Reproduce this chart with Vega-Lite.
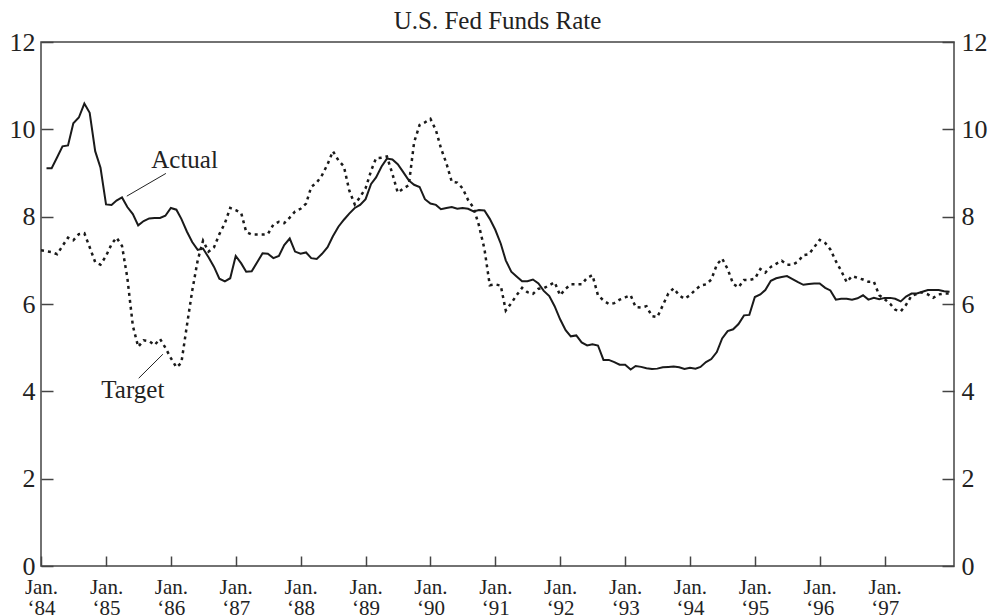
{
  "$schema": "https://vega.github.io/schema/vega-lite/v6.json",
  "width": 913,
  "height": 524,
  "autosize": "none",
  "padding": {"left": 41, "top": 42, "right": 34, "bottom": 49},
  "background": "white",
  "title": {"text": "U.S. Fed Funds Rate", "font": "Liberation Serif", "fontSize": 25, "fontWeight": "normal", "color": "#222", "anchor": "middle", "offset": -5},
  "config": {
    "view": {"stroke": "#444", "strokeWidth": 1.5},
    "axis": {"grid": false, "domain": false, "tickColor": "#444", "tickWidth": 1.5, "labelFont": "Liberation Serif", "labelColor": "#222", "labelFlush": false, "labelOverlap": false, "title": null}
  },
  "datasets": {
    "fed": [
      {"d":"1984-01","t":7.23},
      {"d":"1984-02","a":9.11,"t":7.21},{"d":"1984-03","a":9.11,"t":7.19},{"d":"1984-04","a":9.36,"t":7.14},{"d":"1984-05","a":9.61,"t":7.33},{"d":"1984-06","a":9.63,"t":7.52},{"d":"1984-07","a":10.14,"t":7.46},{"d":"1984-08","a":10.27,"t":7.6},{"d":"1984-09","a":10.59,"t":7.62},{"d":"1984-10","a":10.38,"t":7.3},{"d":"1984-11","a":9.5,"t":6.96},{"d":"1984-12","a":9.12,"t":6.9},
      {"d":"1985-01","a":8.28,"t":7.1},{"d":"1985-02","a":8.27,"t":7.37},{"d":"1985-03","a":8.37,"t":7.52},{"d":"1985-04","a":8.44,"t":7.33},{"d":"1985-05","a":8.22,"t":6.6},{"d":"1985-06","a":8.06,"t":5.5},{"d":"1985-07","a":7.8,"t":5.02},{"d":"1985-08","a":7.9,"t":5.17},{"d":"1985-09","a":7.96,"t":5.15},{"d":"1985-10","a":7.97,"t":5.06},{"d":"1985-11","a":7.97,"t":5.2},{"d":"1985-12","a":8.02,"t":5.0},
      {"d":"1986-01","a":8.2,"t":4.76},{"d":"1986-02","a":8.16,"t":4.55},{"d":"1986-03","a":7.95,"t":4.65},{"d":"1986-04","a":7.66,"t":5.5},{"d":"1986-05","a":7.42,"t":6.3},{"d":"1986-06","a":7.24,"t":7.0},{"d":"1986-07","a":7.27,"t":7.45},{"d":"1986-08","a":7.07,"t":7.2},{"d":"1986-09","a":6.85,"t":7.3},{"d":"1986-10","a":6.58,"t":7.6},{"d":"1986-11","a":6.52,"t":7.85},{"d":"1986-12","a":6.59,"t":8.2},
      {"d":"1987-01","a":7.1,"t":8.15},{"d":"1987-02","a":6.93,"t":8.08},{"d":"1987-03","a":6.74,"t":7.65},{"d":"1987-04","a":6.75,"t":7.59},{"d":"1987-05","a":6.95,"t":7.59},{"d":"1987-06","a":7.16,"t":7.59},{"d":"1987-07","a":7.15,"t":7.6},{"d":"1987-08","a":7.05,"t":7.82},{"d":"1987-09","a":7.1,"t":7.88},{"d":"1987-10","a":7.35,"t":7.85},{"d":"1987-11","a":7.5,"t":7.98},{"d":"1987-12","a":7.2,"t":8.12},
      {"d":"1988-01","a":7.15,"t":8.18},{"d":"1988-02","a":7.18,"t":8.3},{"d":"1988-03","a":7.05,"t":8.68},{"d":"1988-04","a":7.03,"t":8.78},{"d":"1988-05","a":7.15,"t":8.95},{"d":"1988-06","a":7.3,"t":9.2},{"d":"1988-07","a":7.55,"t":9.5},{"d":"1988-08","a":7.77,"t":9.29},{"d":"1988-09","a":7.93,"t":9.15},{"d":"1988-10","a":8.07,"t":8.6},{"d":"1988-11","a":8.2,"t":8.28},{"d":"1988-12","a":8.27,"t":8.45},
      {"d":"1989-01","a":8.4,"t":8.65},{"d":"1989-02","a":8.75,"t":9.05},{"d":"1989-03","a":8.9,"t":9.34},{"d":"1989-04","a":9.15,"t":9.35},{"d":"1989-05","a":9.33,"t":9.38},{"d":"1989-06","a":9.31,"t":8.98},{"d":"1989-07","a":9.2,"t":8.55},{"d":"1989-08","a":9.02,"t":8.64},{"d":"1989-09","a":8.83,"t":8.72},{"d":"1989-10","a":8.73,"t":9.7},{"d":"1989-11","a":8.68,"t":10.1},{"d":"1989-12","a":8.4,"t":10.16},
      {"d":"1990-01","a":8.3,"t":10.24},{"d":"1990-02","a":8.27,"t":9.98},{"d":"1990-03","a":8.17,"t":9.57},{"d":"1990-04","a":8.2,"t":9.22},{"d":"1990-05","a":8.22,"t":8.8},{"d":"1990-06","a":8.18,"t":8.78},{"d":"1990-07","a":8.2,"t":8.65},{"d":"1990-08","a":8.18,"t":8.38},{"d":"1990-09","a":8.12,"t":8.2},{"d":"1990-10","a":8.15,"t":7.8},{"d":"1990-11","a":8.14,"t":7.26},{"d":"1990-12","a":7.95,"t":6.43},
      {"d":"1991-01","a":7.7,"t":6.45},{"d":"1991-02","a":7.38,"t":6.42},{"d":"1991-03","a":7.0,"t":5.85},{"d":"1991-04","a":6.74,"t":6.02},{"d":"1991-05","a":6.63,"t":6.2},{"d":"1991-06","a":6.52,"t":6.37},{"d":"1991-07","a":6.52,"t":6.27},{"d":"1991-08","a":6.56,"t":6.23},{"d":"1991-09","a":6.47,"t":6.35},{"d":"1991-10","a":6.3,"t":6.36},{"d":"1991-11","a":6.18,"t":6.43},{"d":"1991-12","a":5.95,"t":6.5},
      {"d":"1992-01","a":5.65,"t":6.2},{"d":"1992-02","a":5.4,"t":6.35},{"d":"1992-03","a":5.26,"t":6.45},{"d":"1992-04","a":5.28,"t":6.45},{"d":"1992-05","a":5.12,"t":6.45},{"d":"1992-06","a":5.05,"t":6.6},{"d":"1992-07","a":5.08,"t":6.66},{"d":"1992-08","a":5.05,"t":6.2},{"d":"1992-09","a":4.72,"t":6.08},{"d":"1992-10","a":4.72,"t":6.0},{"d":"1992-11","a":4.67,"t":6.02},{"d":"1992-12","a":4.61,"t":6.1},
      {"d":"1993-01","a":4.61,"t":6.15},{"d":"1993-02","a":4.5,"t":6.2},{"d":"1993-03","a":4.58,"t":5.93},{"d":"1993-04","a":4.56,"t":5.92},{"d":"1993-05","a":4.53,"t":5.95},{"d":"1993-06","a":4.51,"t":5.72},{"d":"1993-07","a":4.52,"t":5.7},{"d":"1993-08","a":4.55,"t":5.97},{"d":"1993-09","a":4.56,"t":6.24},{"d":"1993-10","a":4.57,"t":6.36},{"d":"1993-11","a":4.55,"t":6.2},{"d":"1993-12","a":4.51,"t":6.12},
      {"d":"1994-01","a":4.54,"t":6.2},{"d":"1994-02","a":4.52,"t":6.33},{"d":"1994-03","a":4.56,"t":6.42},{"d":"1994-04","a":4.67,"t":6.45},{"d":"1994-05","a":4.74,"t":6.56},{"d":"1994-06","a":4.9,"t":6.9},{"d":"1994-07","a":5.21,"t":7.04},{"d":"1994-08","a":5.38,"t":6.8},{"d":"1994-09","a":5.42,"t":6.46},{"d":"1994-10","a":5.54,"t":6.38},{"d":"1994-11","a":5.74,"t":6.55},{"d":"1994-12","a":5.75,"t":6.55},
      {"d":"1995-01","a":6.16,"t":6.58},{"d":"1995-02","a":6.22,"t":6.8},{"d":"1995-03","a":6.32,"t":6.72},{"d":"1995-04","a":6.53,"t":6.85},{"d":"1995-05","a":6.59,"t":6.92},{"d":"1995-06","a":6.62,"t":6.99},{"d":"1995-07","a":6.64,"t":6.9},{"d":"1995-08","a":6.57,"t":6.9},{"d":"1995-09","a":6.5,"t":6.97},{"d":"1995-10","a":6.44,"t":7.12},{"d":"1995-11","a":6.46,"t":7.14},{"d":"1995-12","a":6.47,"t":7.3},
      {"d":"1996-01","a":6.47,"t":7.47},{"d":"1996-02","a":6.37,"t":7.4},{"d":"1996-03","a":6.31,"t":7.25},{"d":"1996-04","a":6.1,"t":6.98},{"d":"1996-05","a":6.12,"t":6.76},{"d":"1996-06","a":6.12,"t":6.5},{"d":"1996-07","a":6.1,"t":6.64},{"d":"1996-08","a":6.13,"t":6.6},{"d":"1996-09","a":6.2,"t":6.56},{"d":"1996-10","a":6.1,"t":6.51},{"d":"1996-11","a":6.14,"t":6.51},{"d":"1996-12","a":6.11,"t":6.2},
      {"d":"1997-01","a":6.14,"t":6.11},{"d":"1997-02","a":6.14,"t":6.0},{"d":"1997-03","a":6.12,"t":5.87},{"d":"1997-04","a":6.06,"t":5.83},{"d":"1997-05","a":6.17,"t":5.98},{"d":"1997-06","a":6.24,"t":6.19},{"d":"1997-07","a":6.24,"t":6.23},{"d":"1997-08","a":6.28,"t":6.27},{"d":"1997-09","a":6.32,"t":6.22},{"d":"1997-10","a":6.32,"t":6.14},{"d":"1997-11","a":6.32,"t":6.22},{"d":"1997-12","a":6.29,"t":6.24},
      {"d":"1998-01","a":6.28,"t":6.24}
    ],
    "labels": [
      {"d":"1986-03-19","v":9.29,"label":"Actual"},
      {"d":"1985-06-01","v":4.03,"label":"Target"}
    ],
    "leaders": [
      {"d":"1985-12-04","v":8.99,"d2":"1985-04-28","v2":8.47},
      {"d":"1985-07-04","v":4.30,"d2":"1985-11-17","v2":4.85}
    ]
  },
  "layer": [
    {
      "data": {"name": "fed"},
      "mark": {"type": "line", "color": "#1a1a1a", "strokeWidth": 2},
      "encoding": {
        "x": {"field": "d", "type": "temporal",
          "scale": {"type": "utc", "domain": [441763200000, 885772800000]},
          "axis": {
            "values": [441763200000, 473385600000, 504921600000, 536457600000, 567993600000, 599616000000, 631152000000, 662688000000, 694224000000, 725846400000, 757382400000, 788918400000, 820454400000, 852076800000],
            "tickSize": -10, "tickColor": "#444", "tickWidth": 1.5,
            "labelPadding": 20, "labelFont": "Liberation Serif", "labelFontSize": 21, "labelLineHeight": 21, "labelBaseline": "top", "labelAlign": "center", "labelColor": "#222",
            "labelFlush": false, "labelOverlap": false,
            "labelExpr": "['Jan.', '\u2018' + utcFormat(datum.value, '%y')]"
          }
        },
        "y": {"field": "a", "type": "quantitative",
          "scale": {"domain": [0, 12], "nice": false, "zero": true},
          "axis": {"orient": "left", "values": [0,2,4,6,8,10,12], "tickSize": -12, "tickColor": "#444", "tickWidth": 1.5, "labelPadding": 18, "labelFont": "Liberation Serif", "labelFontSize": 26, "labelColor": "#222"}
        }
      }
    },
    {
      "data": {"name": "fed"},
      "mark": {"type": "line", "color": "#1a1a1a", "strokeWidth": 2.5, "strokeDash": [3, 4]},
      "encoding": {
        "x": {"field": "d", "type": "temporal"},
        "y": {"field": "t", "type": "quantitative",
          "axis": {"orient": "right", "values": [0,2,4,6,8,10,12], "tickSize": -12, "tickColor": "#444", "tickWidth": 1.5, "labelPadding": 19, "labelFont": "Liberation Serif", "labelFontSize": 26, "labelColor": "#222"}
        }
      }
    },
    {
      "data": {"name": "leaders"},
      "mark": {"type": "rule", "color": "#222", "strokeWidth": 1},
      "encoding": {
        "x": {"field": "d", "type": "temporal"},
        "x2": {"field": "d2"},
        "y": {"field": "v", "type": "quantitative", "axis": null},
        "y2": {"field": "v2"}
      }
    },
    {
      "data": {"name": "labels"},
      "mark": {"type": "text", "font": "Liberation Serif", "fontSize": 25, "color": "#222", "align": "center", "baseline": "middle"},
      "encoding": {
        "x": {"field": "d", "type": "temporal"},
        "y": {"field": "v", "type": "quantitative", "axis": null},
        "text": {"field": "label"}
      }
    }
  ],
  "resolve": {"scale": {"y": "shared"}, "axis": {"y": "independent"}}
}
